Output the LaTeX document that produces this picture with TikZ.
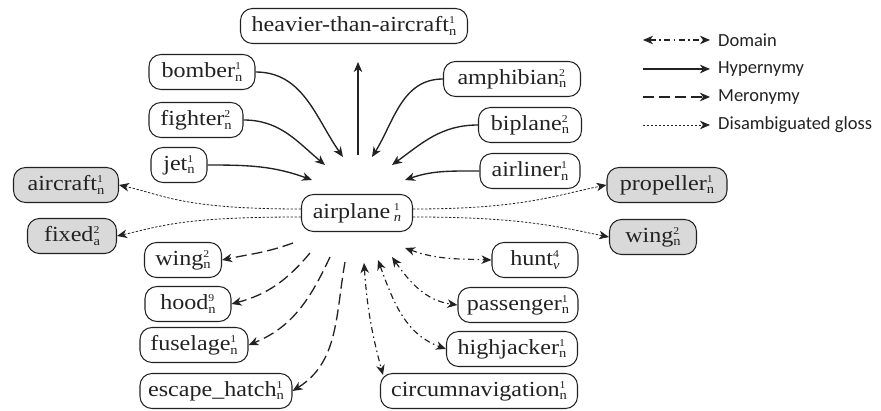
\documentclass[tikz,border=0pt]{standalone}
\usepackage{fontspec}
\setmainfont{Liberation Serif}[FakeStretch=1.12]
\newfontfamily\legfont{Carlito}
\usetikzlibrary{arrows.meta}
\definecolor{ink}{HTML}{222222}
\definecolor{glfill}{HTML}{D9D9D9}
\newcommand\ws[2]{\makebox[0pt][l]{\raisebox{8pt}{\fontsize{10.5}{11}\selectfont#1}}\raisebox{-3.8pt}{\fontsize{13}{13}\selectfont#2}}
\tikzset{
  wn/.style={draw=ink, text=ink, rounded corners=12pt, minimum height=35pt, inner sep=0pt,
     line width=1.05pt, font=\fontsize{21.5}{24}\selectfont},
  gl/.style={wn, fill=glfill},
  tipA/.tip={Stealth[length=10pt,width=8.5pt,inset=3pt]},
  hyp/.style={draw=ink, line width=1.35pt, -tipA},
  mer/.style={draw=ink, line width=1.3pt, -tipA, dash pattern=on 11pt off 5pt},
  dom/.style={draw=ink, line width=1.15pt, tipA-tipA, dash pattern=on 6pt off 3.5pt on 1.5pt off 3.5pt},
  gls/.style={draw=ink, line width=0.8pt, -tipA, dash pattern=on 2.4pt off 1.6pt},
  legtext/.style={anchor=west, inner sep=0pt, text=ink, font=\legfont\fontsize{18.5}{20}\selectfont},
}
\begin{document}
\begin{tikzpicture}[x=1pt,y=1pt]
\useasboundingbox (0,0) rectangle (881,410);

% nodes
\node[wn, minimum width=227pt] (heavier) at (354,384) {heavier-than-aircraft\ws{1}{n}};
\node[wn, minimum width=106pt] (bomber) at (202,338) {bomber\ws{1}{n}};
\node[wn, minimum width=94pt] (fighter) at (196,290) {fighter\ws{2}{n}};
\node[wn, minimum width=56pt] (jet) at (179,245) {jet\ws{1}{n}};
\node[gl, minimum width=105pt] (aircraft) at (66,225) {aircraft\ws{1}{n}};
\node[wn, minimum width=111pt, minimum height=37pt] (airplane) at (357,197) {airplane\,\ws{1}{\itshape n}};
\node[wn, minimum width=137pt] (amphibian) at (512,331) {amphibian\ws{2}{n}};
\node[wn, minimum width=103pt] (biplane) at (530,285) {biplane\ws{2}{n}};
\node[wn, minimum width=100pt] (airliner) at (530,239) {airliner\ws{1}{n}};
\node[gl, minimum width=120pt] (propeller) at (667,225) {propeller\ws{1}{n}};
\node[gl, minimum width=89pt] (fixed) at (72,174) {fixed\ws{2}{a}};
\node[gl, minimum width=87pt] (wingg) at (653,173) {wing\ws{2}{n}};
\node[wn, minimum width=77pt] (wingm) at (183,150) {wing\ws{2}{n}};
\node[wn, minimum width=86pt] (hood) at (188,106) {hood\ws{9}{n}};
\node[wn, minimum width=108pt] (fuselage) at (194,65) {fuselage\ws{1}{n}};
\node[wn, minimum width=152pt] (escape) at (216,19) {escape\_hatch\ws{1}{n}};
\node[wn, minimum width=86pt] (hunt) at (535,150) {hunt\ws{4}{\itshape v}};
\node[wn, minimum width=120pt] (passenger) at (518,105) {passenger\ws{1}{n}};
\node[wn, minimum width=131pt] (highjacker) at (512,61) {highjacker\ws{1}{n}};
\node[wn, minimum width=197pt] (circum) at (479,19) {circumnavigation\ws{1}{n}};

% free ends near airplane
\coordinate (h1) at (343,253);
\coordinate (h2) at (325,245);
\coordinate (h3) at (312,230);
\coordinate (hv) at (358,255);
\coordinate (ht) at (358,348);
\coordinate (h5) at (372,253);
\coordinate (h6) at (392,245);
\coordinate (h7) at (405,230);
\coordinate (m1) at (293,167);
\coordinate (m2) at (310,157);
\coordinate (m3) at (330,153);
\coordinate (m4) at (345,148);
\coordinate (d1) at (405,162);
\coordinate (d2) at (392,153);
\coordinate (d3) at (378,150);
\coordinate (d4) at (364,147);

% hypernymy
\draw[hyp] (bomber.east) to[out=0,in=125] (h1);
\draw[hyp] (fighter.east) to[out=0,in=140] (h2);
\draw[hyp] (jet.east) to[out=0,in=160] (h3);
\draw[hyp] (hv) -- (ht);
\draw[hyp] (amphibian.west) to[out=180,in=58] (h5);
\draw[hyp] (biplane.west) to[out=180,in=36] (h6);
\draw[hyp] (airliner.west) to[out=180,in=19] (h7);

% meronymy
\draw[mer] (m1) to[out=-160,in=12] (wingm.east);
\draw[mer] (m2) to[out=-130,in=15] (hood.east);
\draw[mer] (m3) to[out=-115,in=22] (fuselage.east);
\draw[mer] (m4) to[out=-100,in=32] (escape.east);

% domain
\draw[dom] (d1) to[out=-20,in=178] (hunt.west);
\draw[dom] (d2) to[out=-55,in=172] (passenger.west);
\draw[dom] (d3) to[out=-70,in=160] (highjacker.west);
\draw[dom] (d4) to[out=-86,in=105] ([xshift=3pt,yshift=-2pt]circum.north west);

% disambiguated gloss
\draw[gls] ([yshift=4pt]airplane.west) .. controls +(-120,0) and +(45,-10) .. (aircraft.east);
\draw[gls] ([yshift=-4pt]airplane.west) .. controls +(-120,0) and +(45,10) .. (fixed.east);
\draw[gls] ([yshift=4pt]airplane.east) .. controls +(110,0) and +(-50,-10) .. (propeller.west);
\draw[gls] ([yshift=-4pt]airplane.east) .. controls +(110,0) and +(-50,10) .. (wingg.west);

% legend
\node[legtext] (lt1) at (718,370) {Domain};
\node[legtext] (lt2) at (718,341) {Hypernymy};
\node[legtext] (lt3) at (718,313) {Meronymy};
\node[legtext] (lt4) at (718,285) {Disambiguated gloss};
\coordinate (la1) at (643,370);
\coordinate (la2) at (643,341);
\coordinate (la3) at (643,313);
\coordinate (la4) at (643,285);
\draw[dom] (la1) -- ([xshift=-8pt]lt1.west);
\draw[hyp] (la2) -- ([xshift=-8pt]lt2.west);
\draw[mer] (la3) -- ([xshift=-8pt]lt3.west);
\draw[gls] (la4) -- ([xshift=-8pt]lt4.west);
\end{tikzpicture}
\end{document}
